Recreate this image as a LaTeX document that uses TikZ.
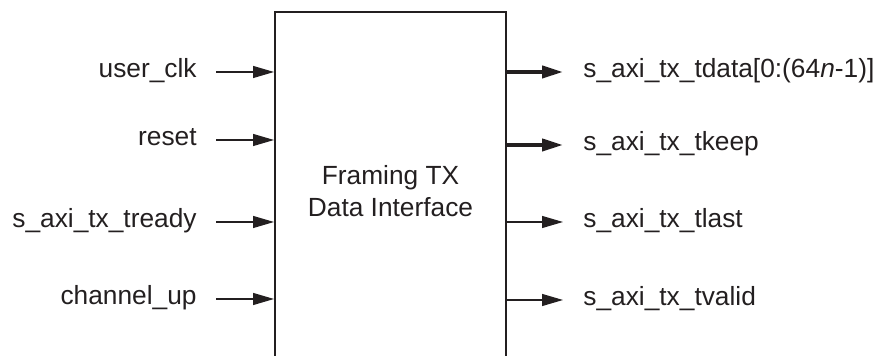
\documentclass[tikz,border=0pt]{standalone}
\usepackage{fontspec}
\setmainfont{Liberation Sans}
\definecolor{XInk}{HTML}{231F20}
\usetikzlibrary{arrows.meta, positioning}

\begin{document}
\begin{tikzpicture}[x=0.5pt, y=-0.5pt,
    sig/.style={font=\fontsize{13.15}{16}\selectfont, text=XInk, inner ysep=0pt},
    insig/.style={sig, anchor=mid east, inner xsep=9.5pt},
    outsig/.style={sig, anchor=mid west, inner xsep=10pt},
    wire/.style={draw=XInk, line width=0.6pt, -{Triangle[length=10.5pt, width=6pt]}},
    bus/.style={wire, line width=2pt}]
        % Frame
        \useasboundingbox (0,0) rectangle (888,356);
        \clip (0,0) rectangle (888,356);

        % Block
        \node[draw=XInk, line width=1pt, minimum width=115.5pt, minimum height=179.5pt,
              inner sep=0pt, align=center, font=\fontsize{13.15}{16}\selectfont, text=XInk]
              (txif) at (390.5,191.5) {Framing TX\\Data Interface};

        % Inputs
        \node[insig] (clk) at (216,72) {user\_clk};
        \node[insig] (rst) at (216,140) {reset};
        \node[insig] (trdy) at (216,222) {s\_axi\_tx\_tready};
        \node[insig] (chup) at (216,299) {channel\_up};

        \draw[wire] (clk.mid east) -- (clk.mid east -| txif.west);
        \draw[wire] (rst.mid east) -- (rst.mid east -| txif.west);
        \draw[wire] (trdy.mid east) -- (trdy.mid east -| txif.west);
        \draw[wire] (chup.mid east) -- (chup.mid east -| txif.west);

        % Outputs
        \node[outsig] (tdat) at (563,72) {s\_axi\_tx\_tdata[0:(64\textit{n}-1)]};
        \node[outsig] (tkp) at (563,145) {s\_axi\_tx\_tkeep};
        \node[outsig] (tlst) at (563,222) {s\_axi\_tx\_tlast};
        \node[outsig] (tvld) at (563,300) {s\_axi\_tx\_tvalid};

        \draw[bus] (tdat.mid west -| txif.east) -- (tdat.mid west);
        \draw[bus] (tkp.mid west -| txif.east) -- (tkp.mid west);
        \draw[wire] (tlst.mid west -| txif.east) -- (tlst.mid west);
        \draw[wire] (tvld.mid west -| txif.east) -- (tvld.mid west);
    \end{tikzpicture}
\end{document}
